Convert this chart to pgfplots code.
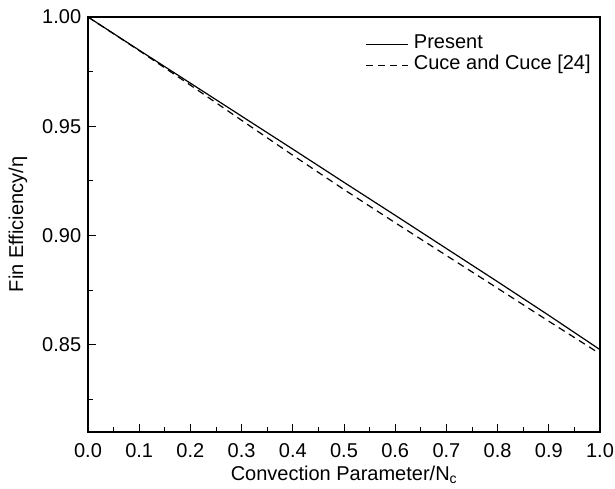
\documentclass[border=0pt]{standalone}
\usepackage{pgfplots}
\pgfplotsset{compat=1.18}
\usepackage{fontspec}
\setmainfont{Liberation Sans}
\begin{document}
\fontsize{20}{23}\selectfont
\begin{tikzpicture}
\useasboundingbox (-88pt,-57pt) rectangle (527pt,17pt+415pt);
\begin{axis}[
  scale only axis, width=512pt, height=415pt,
  xmin=0, xmax=1, ymin=0.81, ymax=1.0,
  xtick={0,0.1,...,1.0},
  ytick={0.85,0.90,0.95,1.00},
  minor xtick={0.05,0.15,0.25,0.35,0.45,0.55,0.65,0.75,0.85,0.95},
  minor ytick={0.825,0.875,0.925,0.975},
  xtick pos=left, ytick pos=left,
  tick align=inside,
  major tick length=8pt, minor tick length=5pt,
  every tick/.style={black, line width=1pt},
  axis line style={line width=1.2pt},
  /pgf/number format/assume math mode=true,
  ticklabel style={font=\fontsize{20}{23}\selectfont},
  xticklabel style={anchor=base, yshift=-26pt, /pgf/number format/.cd,fixed,fixed zerofill,precision=1},
  yticklabel style={/pgf/number format/.cd,fixed,fixed zerofill,precision=2},
  xlabel={Convection Parameter/N\textsubscript{c}},
  ylabel={Fin Efficiency/η},
  xlabel style={at={(axis description cs:0.5,0)}, anchor=base, yshift=-48pt},
  ylabel style={at={([xshift=-70pt]axis description cs:0,0.5)}, anchor=center},
  legend style={draw=none, fill=none, at={(axis description cs:0.99,0.965)}, anchor=north east,
    nodes={inner sep=1pt, text height=14pt, text depth=5pt, font=\fontsize{20}{23}\selectfont}},
  legend cell align=left,
  legend image code/.code={\draw[#1] (0pt,0pt) -- (42pt,0pt);},
  /tikz/every odd column/.append style={column sep=4pt},
]
\addplot[black, line width=1.2pt] coordinates {
(0,1.0) (0.1,0.9848) (0.2,0.9697) (0.3,0.9546) (0.4,0.9395) (0.5,0.9243)
(0.6,0.9092) (0.7,0.8940) (0.8,0.8788) (0.9,0.8634) (1.0,0.8477)};
\addlegendentry{Present}
\addplot[black, line width=1.2pt, dash pattern=on 7pt off 5pt] coordinates {
(0,1.0) (0.1,0.9846) (0.2,0.9688) (0.3,0.9527) (0.4,0.9367) (0.5,0.9210)
(0.6,0.9058) (0.7,0.8908) (0.8,0.8758) (0.9,0.8607) (1.0,0.8458)};
\addlegendentry{Cuce and Cuce [24]}
\end{axis}
\end{tikzpicture}
\end{document}
